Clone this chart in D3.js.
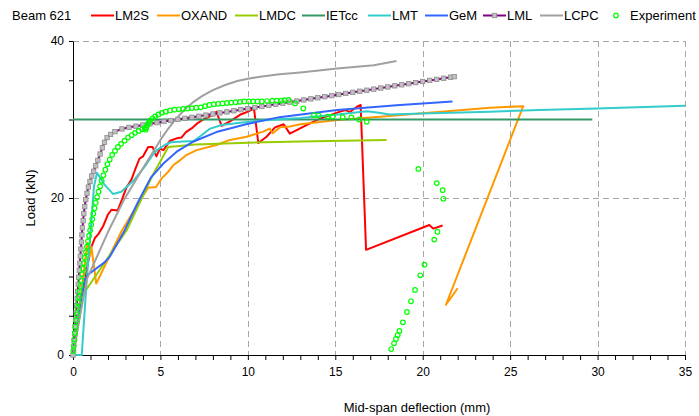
<!DOCTYPE html>
<html><head><meta charset="utf-8">
<script src="https://cdn.jsdelivr.net/npm/d3@7"></script>
<style>body{margin:0;background:#fff}svg{display:block;font-family:"Liberation Sans",Arial,sans-serif}</style>
</head><body><svg id="c" width="699" height="416"></svg>
<script>
const title = "Beam 621";
const xLabel = "Mid-span deflection (mm)";
const yLabel = "Load (kN)";
const xTicks = [0,5,10,15,20,25,30,35];
const yTicks = [0,20,40];
const seriesNames = ["LM2S","OXAND","LMDC","IETcc","LMT","GeM","LML","LCPC","Experiment"];
const seriesColors = ["#ff0000","#ff9900","#99cc00","#339966","#33cccc","#3366ff","#800080","#a0a0a0","#00ff00"];

const lm2s = [[0,0],[0.45,6],[0.8,11],[1.0,13.5],[1.25,14.9],[1.45,15.4],[1.72,16.4],[2.0,17.9],[2.2,18.5],[2.55,18.4],[2.8,19.8],[3.05,21.3],[3.35,22.4],[3.55,23.6],[3.8,25.0],[4.0,25.3],[4.3,26.5],[4.55,26.5],[4.77,25.3],[4.97,26.3],[5.17,26.1],[5.55,27.3],[5.93,27.6],[6.2,27.7],[6.46,28.4],[6.8,28.9],[7.1,29.5],[7.45,30.0],[8.0,30.6],[8.2,31.0],[8.5,29.2],[9.0,29.8],[9.55,30.6],[10.0,31.0],[10.35,31.4],[10.6,27.0],[11.07,27.8],[11.55,29.0],[12.05,29.4],[12.4,28.2],[13.27,29.2],[14.13,30.1],[15.27,31.0],[15.6,31.2],[15.84,30.95],[16.22,31.6],[16.45,31.85],[16.76,13.4],[20.38,16.56],[20.6,16.1],[21.14,16.5]];
const oxand = [[0,0],[0.45,7.5],[0.82,14.3],[0.95,12.5],[1.05,13.8],[1.33,9.1],[2.0,12.2],[2.76,15.7],[3.8,19.6],[4.3,21.3],[4.75,21.4],[5.07,22.5],[5.45,23.35],[5.74,24.2],[6.12,24.8],[6.5,25.5],[7.07,26.1],[8.2,26.75],[8.98,27.4],[9.93,27.8],[10.88,28.45],[11.25,28.85],[11.42,28.25],[11.84,29.0],[12.4,29.1],[13.0,29.4],[15.0,29.9],[17.2,30.3],[20.0,30.8],[23.85,31.5],[25.75,31.7],[21.33,6.4],[22.0,8.5]];
const lmdc = [[0,0],[0.6,7.8],[3.1,16.0],[4.6,23.1],[5.45,26.5],[7.0,26.8],[10.0,27.05],[13.0,27.2],[17.93,27.4]];
const ietcc = [[0,30],[29.7,30]];
const lmt = [[0,0],[0.5,0],[0.65,5],[0.8,10],[1.05,17],[1.2,21.5],[1.37,23.2],[1.55,22.6],[1.8,21.7],[2.3,20.5],[2.76,20.8],[3.5,22.3],[4.1,24.0],[4.5,25.3],[4.8,26.1],[5.25,26.75],[5.6,27.1],[6.3,27.2],[6.9,27.25],[7.3,27.9],[7.8,28.8],[8.5,29.3],[9.55,29.6],[11.0,29.9],[13.0,30.2],[15.0,30.6],[16.8,31.05],[17.4,30.9],[18.1,30.65],[20.0,30.75],[23.85,31.0],[26.7,31.2],[29.95,31.4],[35.0,31.75]];
const gem = [[0,0],[0.29,4.5],[0.48,7.4],[0.67,9.6],[0.9,10.3],[1.14,10.7],[1.8,11.8],[2.1,12.5],[2.96,15.9],[3.7,19.4],[4.45,22.6],[5.17,24.4],[5.93,25.9],[6.9,27.2],[8.2,28.4],[9.9,29.4],[11.8,30.3],[15.1,31.2],[18.5,31.8],[21.7,32.3]];
const lml = [[0,0],[0.03,0.9],[0.06,1.8],[0.09,2.7],[0.12,3.6],[0.15,4.5],[0.18,5.4],[0.21,6.3],[0.24,7.2],[0.27,8.1],[0.3,9.0],[0.33,9.9],[0.36,10.8],[0.39,11.7],[0.42,12.6],[0.45,13.5],[0.48,14.4],[0.51,15.3],[0.54,16.2],[0.58,17.1],[0.62,18.0],[0.67,18.9],[0.73,19.8],[0.8,20.6],[0.88,21.4],[0.97,22.1],[1.07,22.8],[1.18,23.4],[1.3,24.1],[1.42,24.8],[1.55,25.6],[1.68,26.4],[1.8,27.1],[1.95,27.7],[2.15,28.1],[2.4,28.45],[2.8,28.8],[3.2,29.0],[3.6,29.15],[4.0,29.3],[4.4,29.45],[4.8,29.6],[5.2,29.75],[5.6,29.87],[6.0,30.01],[6.4,30.15],[6.8,30.28],[7.2,30.42],[7.6,30.56],[8.0,30.7],[8.4,30.84],[8.8,30.97],[9.2,31.11],[9.6,31.25],[10.0,31.39],[10.4,31.53],[10.8,31.66],[11.2,31.8],[11.6,31.94],[12.0,32.08],[12.4,32.22],[12.8,32.35],[13.2,32.49],[13.6,32.63],[14.0,32.77],[14.4,32.91],[14.8,33.04],[15.2,33.18],[15.6,33.32],[16.0,33.46],[16.4,33.6],[16.8,33.73],[17.2,33.87],[17.6,34.01],[18.0,34.15],[18.4,34.29],[18.8,34.42],[19.2,34.56],[19.6,34.7],[20.0,34.84],[20.4,34.98],[20.8,35.11],[21.2,35.25],[21.6,35.39],[21.8,35.46]];
const lcpc = [[0,0],[0.4,5],[0.8,9.7],[2.05,15.9],[2.9,19.7],[4.0,23.8],[5.0,27.4],[5.45,28.85],[5.9,30.1],[6.4,31.3],[6.9,32.25],[7.4,33.0],[8.0,33.75],[8.7,34.4],[9.4,34.9],[10.0,35.2],[10.7,35.45],[11.8,35.75],[13.0,36.0],[15.1,36.5],[17.2,36.9],[18.5,37.45]];
const experiment = [[0.02,0.5],[0.05,1.2],[0.08,2.0],[0.11,2.8],[0.14,3.6],[0.18,4.4],[0.22,5.2],[0.26,6.0],[0.3,6.7],[0.34,7.4],[0.38,8.1],[0.43,8.8],[0.48,9.5],[0.53,10.3],[0.58,11.0],[0.63,11.7],[0.68,12.4],[0.74,13.1],[0.8,13.8],[0.86,14.5],[0.92,15.2],[0.98,15.9],[1.04,16.6],[1.1,17.3],[1.16,18.0],[1.23,18.7],[1.3,19.4],[1.38,20.1],[1.46,20.8],[1.55,21.5],[1.64,22.2],[1.74,22.9],[1.85,23.6],[1.97,24.3],[2.1,24.9],[2.24,25.5],[2.4,26.0],[2.57,26.5],[2.75,26.9],[2.95,27.3],[3.15,27.7],[3.35,28.0],[3.55,28.3],[3.75,28.55],[3.95,28.75],[4.1,28.9],[4.15,28.7],[4.2,29.0],[4.25,29.3],[4.32,29.6],[4.42,29.9],[4.55,30.15],[4.7,30.4],[4.88,30.65],[5.08,30.85],[5.3,31.0],[5.55,31.15],[5.8,31.25],[6.05,31.3],[6.3,31.35],[6.55,31.4],[6.8,31.45],[7.05,31.5],[7.3,31.55],[7.55,31.7],[7.8,31.85],[8.05,31.95],[8.3,32.0],[8.55,32.05],[8.8,32.1],[9.05,32.15],[9.3,32.2],[9.55,32.25],[9.8,32.3],[10.05,32.3],[10.3,32.3],[10.55,32.3],[10.8,32.3],[11.1,32.35],[11.4,32.4],[11.65,32.4],[11.9,32.4],[12.1,32.45],[12.33,32.5],[12.7,32.05],[13.17,31.4],[13.78,30.57],[14.05,30.5],[14.56,30.37],[14.85,30.37],[15.42,30.3],[15.92,30.27],[16.37,30.0],[16.8,29.7],[19.75,23.7],[20.8,21.9],[21.14,21.0],[21.18,19.9],[20.84,15.7],[20.66,14.7],[20.1,11.5],[19.86,10.15],[19.56,8.28],[19.33,6.84],[19.1,5.48],[18.87,4.16],[18.67,3.06],[18.57,2.55],[18.47,2.04],[18.36,1.49],[18.2,0.76]];

const lineSeries = [lm2s,oxand,lmdc,ietcc,lmt,gem,lml,lcpc];

const svg = d3.select("#c");
const x = d3.scaleLinear().domain([0,35]).range([73,685]);
const y = d3.scaleLinear().domain([0,40]).range([355,41]);
const fontFam = '"Liberation Sans",Arial,sans-serif';

// grid
const grid = svg.append("g").attr("stroke","#a6a6a6").attr("stroke-width",1).attr("stroke-dasharray","6,4");
grid.selectAll(".vg").data(xTicks.filter(d=>d>0)).join("line")
  .attr("x1",d=>Math.round(x(d))+0.5).attr("x2",d=>Math.round(x(d))+0.5).attr("y1",y(40)).attr("y2",y(0));
grid.selectAll(".hg").data(yTicks.filter(d=>d>0)).join("line")
  .attr("x1",x(0)).attr("x2",x(35)).attr("y1",d=>Math.round(y(d))+0.5).attr("y2",d=>Math.round(y(d))+0.5);

// axes
const xAxis = d3.axisBottom(x).tickValues(d3.range(0,36,1)).tickSize(5).tickSizeOuter(0)
  .tickFormat(d=>xTicks.includes(d)?d:"");
const gx = svg.append("g").attr("transform",`translate(0,${y(0)})`).call(xAxis);
gx.selectAll("text").attr("font-size",12).attr("font-family",fontFam).attr("dy","1.05em").attr("fill","#000");
const yAxis = d3.axisLeft(y).tickValues(d3.range(0,41,5)).tickSize(4).tickSizeOuter(0)
  .tickFormat(d=>yTicks.includes(d)?d:"");
const gy = svg.append("g").attr("transform",`translate(${x(0)},0)`).call(yAxis);
gy.selectAll("text").attr("font-size",12).attr("font-family",fontFam).attr("fill","#000").attr("x",-9);
svg.selectAll(".domain").attr("stroke","#000");

// lines
const line = d3.line().x(d=>x(d[0])).y(d=>y(d[1]));
lineSeries.forEach((s,i)=>{
  svg.append("path").datum(s).attr("d",line).attr("fill","none")
    .attr("stroke",seriesColors[i]).attr("stroke-width",2).attr("stroke-linejoin","round");
});
// LML markers
svg.append("g").selectAll("rect").data(lml).join("rect")
  .attr("x",d=>x(d[0])-2.2).attr("y",d=>y(d[1])-2.2).attr("width",4.4).attr("height",4.4)
  .attr("fill","#c0c0c0").attr("stroke","#8c8c8c").attr("stroke-width",0.8);
// experiment
svg.append("g").selectAll("circle").data(experiment).join("circle")
  .attr("cx",d=>x(d[0])).attr("cy",d=>y(d[1])).attr("r",2.3)
  .attr("fill","none").attr("stroke",seriesColors[8]).attr("stroke-width",1.2);

// titles
svg.append("text").attr("x",12).attr("y",20).attr("font-size",13).text(title);
svg.append("text").attr("x",417).attr("y",412).attr("text-anchor","middle").attr("font-size",13).text(xLabel);
svg.append("text").attr("transform","translate(35,198) rotate(-90)").attr("text-anchor","middle").attr("font-size",13).text(yLabel);

// legend
const legX = [91,157,235,302,368,425,483,540,609];
const leg = svg.append("g");
seriesNames.forEach((n,i)=>{
  const x0 = legX[i];
  if(i<8){
    leg.append("line").attr("x1",x0).attr("x2",x0+23).attr("y1",15.5).attr("y2",15.5)
      .attr("stroke",seriesColors[i]).attr("stroke-width",2);
    if(n==="LML") leg.append("rect").attr("x",x0+9.3).attr("y",13.3).attr("width",4.4).attr("height",4.4)
      .attr("fill","#c0c0c0").attr("stroke","#8c8c8c").attr("stroke-width",0.8);
    leg.append("text").attr("x",x0+24).attr("y",20).attr("font-size",13).text(n);
  } else {
    leg.append("circle").attr("cx",x0+7).attr("cy",15.5).attr("r",2.3).attr("fill","none")
      .attr("stroke",seriesColors[i]).attr("stroke-width",1.2);
    leg.append("text").attr("x",x0+21).attr("y",20).attr("font-size",13).text(n);
  }
});
</script></body></html>
